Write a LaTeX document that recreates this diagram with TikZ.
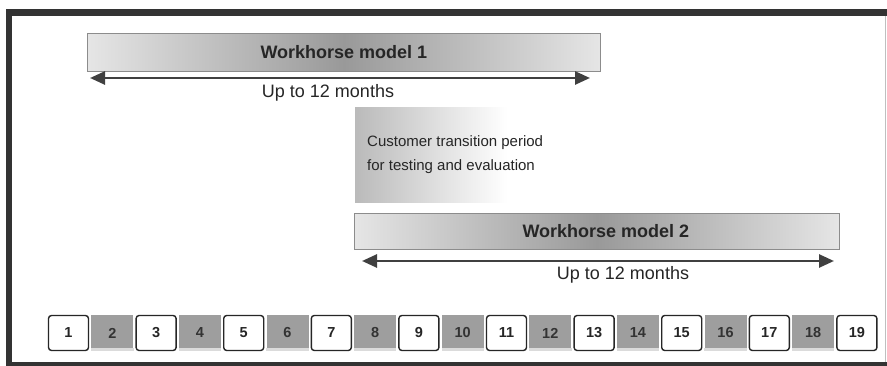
\documentclass[tikz,border=0pt]{standalone}
\usepackage{fontspec}
\setmainfont{Liberation Sans}
\usetikzlibrary{arrows.meta}
\tikzset{
  frame/.style={fill=black!80},
  bar/.style={draw=black!45, line width=0.8pt, left color=black!10, right color=black!10, middle color=black!40, anchor=north west, inner sep=0pt, font=\fontsize{18}{20}\selectfont\bfseries, text=black!85},
  span/.style={{Triangle[length=15pt,width=13pt]}-{Triangle[length=15pt,width=13pt]}, line width=2.6pt, draw=black!75},
  lbl/.style={font=\fontsize{18}{20}\selectfont, text=black!85, inner sep=0pt},
  transbox/.style={left color=black!27, right color=white, anchor=north west, minimum width=152pt, minimum height=95pt, inner sep=0pt},
  transtext/.style={font=\fontsize{15}{24}\selectfont, text=black!85, align=left, anchor=west, inner sep=0pt},
  whitebox/.style={draw=black!85, line width=1.4pt, fill=white, rounded corners=3pt, minimum width=40pt, minimum height=35pt, inner sep=0pt, font=\fontsize{14.5}{16}\selectfont\bfseries, text=black!85},
  greybox/.style={fill=black!38, minimum width=42pt, minimum height=36pt, inner sep=0pt, font=\fontsize{14.5}{16}\selectfont\bfseries, text=black!80},
  strip/.style={fill=black!14}
}
\begin{document}
\begin{tikzpicture}[x=1pt,y=-1pt]
\useasboundingbox (0,0) rectangle (887,366);
\fill[white] (0,0) rectangle (887,366);
% frame
\fill[frame] (6,9) rectangle (887,16);
\fill[frame] (6,9) rectangle (12,366);
\fill[frame] (6,362) rectangle (887,366);
\draw[black!25, line width=1pt] (885,16) -- (885,362);

% model 1
\node[bar, minimum width=513pt, minimum height=38pt] (wm1) at (87,33) {Workhorse model 1};
\coordinate (a1l) at (90,78);
\coordinate (a1r) at (590,78);
\draw[span] (a1l) -- (a1r);
\node[lbl] (u1) at (328,93) {Up to 12 months};

% transition
\node[transbox] (trans) at (355,107) {};
\node[transtext] (tt) at (367,155) {Customer transition period\\for testing and evaluation};

% model 2
\node[bar, minimum width=485pt, minimum height=36pt] (wm2) at (354,213) {\hspace*{18pt}Workhorse model 2};
\coordinate (a2l) at (362,261);
\coordinate (a2r) at (834,261);
\draw[span] (a2l) -- (a2r);
\node[lbl] (u2) at (623,275) {Up to 12 months};

% month boxes
\foreach \i in {1,...,19}{
  \pgfmathsetmacro{\cx}{68.5+(\i-1)*43.8}
  \pgfmathtruncatemacro{\odd}{mod(\i,2)}
  \ifnum\odd=1
    \node[whitebox] (n\i) at (\cx,333) {\i};
  \else
    \node[greybox] (n\i) at (\cx,333) {\i};
    \fill[strip] (n\i.south west) rectangle ([yshift=3pt]n\i.south east);
  \fi
}
\end{tikzpicture}
\end{document}
